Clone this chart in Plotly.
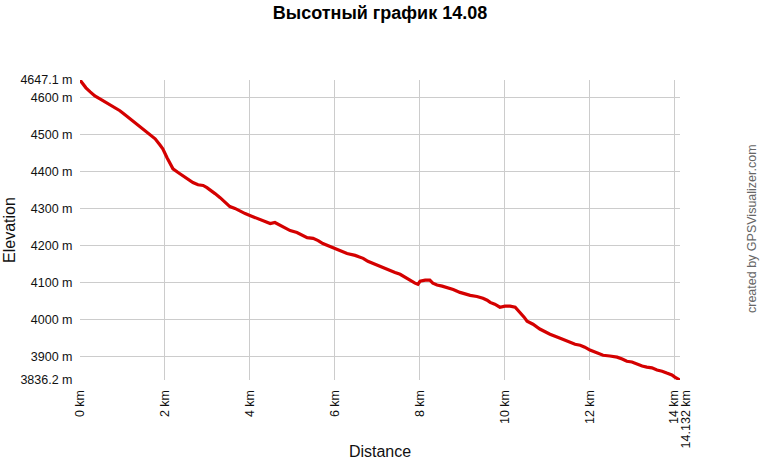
import plotly.graph_objects as go

# Distance along track (km) and elevation (m)
distance_km = [0, 0.07, 0.14, 0.24, 0.35, 0.47, 0.59, 0.71, 0.78, 0.82, 0.94, 1.06, 1.18, 1.30,
               1.41, 1.53, 1.65, 1.77, 1.88, 1.95, 2.05, 2.12, 2.19, 2.31, 2.43, 2.54, 2.66, 2.78,
               2.90, 2.99, 3.06, 3.18, 3.30, 3.42, 3.53, 3.65, 3.77, 3.89, 4.00, 4.12, 4.24, 4.36,
               4.48, 4.59, 4.71, 4.83, 4.95, 5.11, 5.25, 5.35, 5.49, 5.61, 5.72, 5.89, 6.05, 6.17,
               6.29, 6.48, 6.67, 6.78, 6.90, 7.07, 7.18, 7.30, 7.42, 7.54, 7.65, 7.77, 7.89, 7.96,
               8.01, 8.13, 8.24, 8.31, 8.41, 8.53, 8.64, 8.79, 8.95, 9.07, 9.19, 9.35, 9.42, 9.49,
               9.59, 9.66, 9.77, 9.89, 10.01, 10.13, 10.25, 10.32, 10.36, 10.46, 10.53, 10.67,
               10.83, 11.07, 11.31, 11.54, 11.66, 11.78, 11.89, 12.01, 12.13, 12.32, 12.48, 12.65,
               12.77, 12.88, 13.00, 13.12, 13.24, 13.35, 13.47, 13.59, 13.71, 13.82, 13.94, 14.01,
               14.08, 14.132]
elevation_m = [4647.1, 4636, 4626, 4615, 4604, 4596, 4588, 4580, 4577, 4574, 4564, 4553, 4542, 4531,
               4520, 4510, 4499, 4488, 4472, 4461, 4437, 4421, 4407, 4397, 4388, 4378, 4370, 4364,
               4362, 4356, 4351, 4340, 4329, 4316, 4305, 4300, 4292, 4286, 4281, 4275, 4270, 4265,
               4259, 4262, 4254, 4248, 4240, 4235, 4227, 4221, 4219, 4213, 4205, 4197, 4189, 4184,
               4178, 4173, 4165, 4157, 4151, 4143, 4138, 4133, 4127, 4122, 4114, 4106, 4098, 4095,
               4103, 4106, 4106, 4098, 4093, 4090, 4087, 4081, 4073, 4068, 4065, 4062, 4060, 4057,
               4052, 4046, 4041, 4033, 4036, 4036, 4033, 4025, 4019, 4006, 3995, 3987,
               3974, 3960, 3949, 3938, 3933, 3930, 3925, 3917, 3912, 3903, 3901, 3898,
               3893, 3887, 3885, 3879, 3874, 3871, 3869, 3863, 3860, 3855, 3850, 3844,
               3838, 3836.2]

x_tickvals = [0, 2, 4, 6, 8, 10, 12, 14]
x_ticktext = ["0 km", "2 km", "4 km", "6 km", "8 km", "10 km", "12 km", "14 km"]
x_end_tickval = [14.132]
x_end_ticktext = ["14.132 km"]
y_tickvals = [3836.2, 3900, 4000, 4100, 4200, 4300, 4400, 4500, 4600, 4647.1]
y_ticktext = ["3836.2 m", "3900 m", "4000 m", "4100 m", "4200 m", "4300 m", "4400 m",
              "4500 m", "4600 m", "4647.1 m"]

FONT = "Liberation Sans, Arial, sans-serif"
TICKFONT = dict(family=FONT, size=12.5, color="#111")
W, H = 760, 460

fig = go.Figure()
fig.add_trace(go.Scatter(x=distance_km, y=elevation_m, mode="lines",
                         line=dict(color="#d40000", width=3.2), hoverinfo="x+y",
                         showlegend=False))

fig.update_layout(
    width=W, height=H,
    margin=dict(l=80, r=80, t=80, b=80, autoexpand=False),
    paper_bgcolor="white", plot_bgcolor="white",
    font=dict(family=FONT, size=12, color="#111"),
    title=dict(text="<b>Высотный график 14.08</b>", x=0.5, xanchor="center",
               xref="container", y=1 - 13 / H, yref="container", yanchor="middle",
               font=dict(size=18, color="#000")),
    xaxis=dict(range=[0, 14.132], tickvals=x_tickvals, ticktext=x_ticktext,
               tickangle=-90, showgrid=True, gridcolor="#cccccc", gridwidth=1,
               zeroline=False, showline=False, ticks="outside", ticklen=4,
               tickcolor="rgba(0,0,0,0)", tickfont=TICKFONT, automargin=False,
               title=dict(text="Distance", font=dict(size=16), standoff=24)),
    xaxis2=dict(range=[0, 14.132], overlaying="x", side="bottom", anchor="y",
                tickvals=x_end_tickval, ticktext=x_end_ticktext, tickangle=-90,
                showgrid=True, gridcolor="#cccccc", gridwidth=1, zeroline=False,
                showline=False, ticks="outside", ticklen=4,
                tickcolor="rgba(0,0,0,0)", tickfont=TICKFONT, automargin=False,
                ticklabelshift=6),
    yaxis=dict(range=[3836.2, 4647.1], tickvals=y_tickvals, ticktext=y_ticktext,
               showgrid=True, gridcolor="#cccccc", gridwidth=1, zeroline=False,
               showline=False, ticks="outside", ticklen=4, tickcolor="rgba(0,0,0,0)",
               tickfont=TICKFONT, automargin=False,
               title=dict(text="Elevation", font=dict(size=16), standoff=0)),
    annotations=[dict(text="created by GPSVisualizer.com", textangle=-90,
                      x=(752 - 80) / 600, xref="paper", xanchor="center",
                      y=(380 - 229) / 300, yref="paper", yanchor="middle",
                      showarrow=False, font=dict(size=12.5, color="#666"))],
)
# invisible point on xaxis2 so the overlay axis is drawn
fig.add_trace(go.Scatter(x=[14.132], y=[3836.2], xaxis="x2", mode="markers",
                         marker=dict(size=1, color="rgba(0,0,0,0)"),
                         hoverinfo="skip", showlegend=False))

# remove the default 8px page margin so the figure fills the window exactly
fig.write_html("out.html", config={"displayModeBar": False},
               post_script="document.body.style.margin='0px';")
